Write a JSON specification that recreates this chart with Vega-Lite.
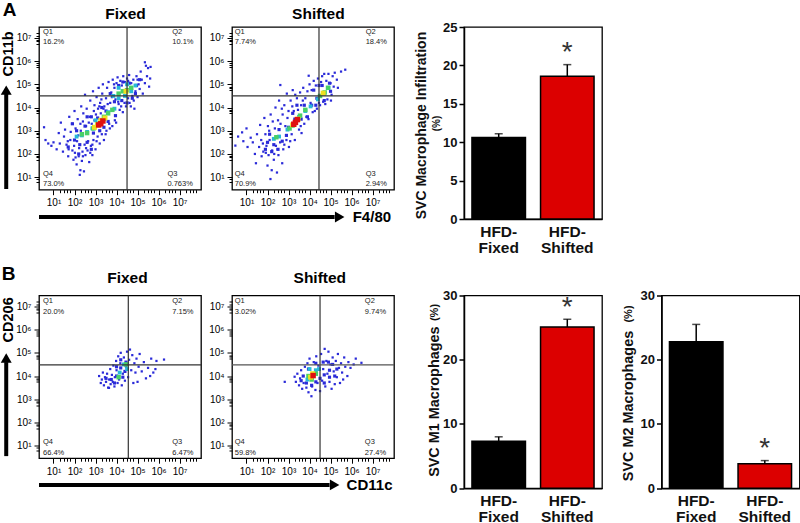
{"$schema":"https://vega.github.io/schema/vega-lite/v6.json","padding":{"left":0,"top":0,"right":0,"bottom":0},"background":"white","config":{"font":"Liberation Sans","view":{"stroke":"black","strokeWidth":1.3}},"datasets":{
"a1":[{"x":0.55,"y":3.15,"d":0},{"x":0.62,"y":2.6,"d":0},{"x":0.75,"y":2.45,"d":0},{"x":0.9,"y":2.35,"d":0},{"x":1.0,"y":2.5,"d":0},{"x":1.15,"y":2.2,"d":0},{"x":1.3,"y":2.45,"d":0},{"x":1.25,"y":2.9,"d":0},{"x":1.35,"y":3.35,"d":0},{"x":1.45,"y":2.1,"d":0},{"x":1.5,"y":2.75,"d":0},{"x":1.55,"y":3.05,"d":0},{"x":1.62,"y":2.4,"d":0},{"x":1.7,"y":1.9,"d":0},{"x":1.72,"y":2.2,"d":0},{"x":1.75,"y":3.6,"d":0},{"x":1.8,"y":2.6,"d":0},{"x":1.82,"y":2.95,"d":0},{"x":1.88,"y":3.3,"d":0},{"x":1.95,"y":1.75,"d":0},{"x":1.98,"y":2.35,"d":0},{"x":2.0,"y":3.85,"d":0},{"x":2.02,"y":2.05,"d":0},{"x":2.05,"y":3.1,"d":0},{"x":2.1,"y":1.55,"d":0},{"x":2.12,"y":2.55,"d":0},{"x":2.15,"y":3.5,"d":0},{"x":2.2,"y":1.9,"d":0},{"x":2.22,"y":2.25,"d":0},{"x":2.25,"y":1.1,"d":0},{"x":2.28,"y":1.3,"d":0},{"x":2.3,"y":3.0,"d":0},{"x":2.32,"y":4.05,"d":0},{"x":2.35,"y":1.7,"d":0},{"x":2.38,"y":2.1,"d":0},{"x":2.4,"y":3.4,"d":0},{"x":2.42,"y":3.75,"d":0},{"x":2.45,"y":1.25,"d":0},{"x":2.48,"y":2.4,"d":0},{"x":2.5,"y":4.55,"d":0},{"x":2.52,"y":1.95,"d":0},{"x":2.55,"y":3.2,"d":0},{"x":2.58,"y":3.95,"d":0},{"x":2.62,"y":2.15,"d":0},{"x":2.65,"y":2.55,"d":0},{"x":2.7,"y":1.65,"d":0},{"x":2.72,"y":3.6,"d":0},{"x":2.75,"y":4.3,"d":0},{"x":2.78,"y":2.35,"d":0},{"x":2.82,"y":3.3,"d":0},{"x":2.85,"y":1.95,"d":0},{"x":2.88,"y":4.7,"d":0},{"x":2.9,"y":2.6,"d":0},{"x":2.92,"y":3.85,"d":0},{"x":2.95,"y":4.1,"d":0},{"x":3.0,"y":2.2,"d":0},{"x":3.02,"y":3.7,"d":0},{"x":3.05,"y":4.45,"d":0},{"x":3.1,"y":2.75,"d":0},{"x":3.12,"y":3.95,"d":0},{"x":3.15,"y":4.85,"d":0},{"x":3.2,"y":2.45,"d":0},{"x":3.22,"y":4.2,"d":0},{"x":3.25,"y":3.75,"d":0},{"x":3.3,"y":2.85,"d":0},{"x":3.32,"y":4.6,"d":0},{"x":3.35,"y":5.0,"d":0},{"x":3.4,"y":2.6,"d":0},{"x":3.42,"y":4.05,"d":0},{"x":3.5,"y":4.4,"d":0},{"x":3.52,"y":3.0,"d":0},{"x":3.55,"y":4.85,"d":0},{"x":3.62,"y":5.1,"d":0},{"x":3.65,"y":3.3,"d":0},{"x":3.7,"y":4.2,"d":0},{"x":3.75,"y":4.65,"d":0},{"x":3.8,"y":3.2,"d":0},{"x":3.82,"y":5.2,"d":0},{"x":3.9,"y":4.85,"d":0},{"x":3.92,"y":3.45,"d":0},{"x":3.95,"y":4.35,"d":0},{"x":4.0,"y":5.05,"d":0},{"x":4.05,"y":5.3,"d":0},{"x":4.1,"y":4.15,"d":0},{"x":4.15,"y":3.9,"d":0},{"x":4.18,"y":5.15,"d":0},{"x":4.25,"y":4.95,"d":0},{"x":4.3,"y":3.8,"d":0},{"x":4.32,"y":5.35,"d":0},{"x":4.4,"y":5.1,"d":0},{"x":4.45,"y":4.05,"d":0},{"x":4.5,"y":5.25,"d":0},{"x":4.55,"y":4.4,"d":0},{"x":4.6,"y":5.4,"d":0},{"x":4.62,"y":4.2,"d":0},{"x":4.7,"y":5.05,"d":0},{"x":4.75,"y":4.5,"d":0},{"x":4.8,"y":5.2,"d":0},{"x":4.85,"y":3.95,"d":0},{"x":4.9,"y":4.7,"d":0},{"x":4.95,"y":5.35,"d":0},{"x":5.0,"y":4.45,"d":0},{"x":5.05,"y":5.0,"d":0},{"x":5.1,"y":4.8,"d":0},{"x":5.15,"y":5.55,"d":0},{"x":5.2,"y":5.2,"d":0},{"x":5.25,"y":4.6,"d":0},{"x":5.35,"y":5.05,"d":0},{"x":5.4,"y":5.8,"d":0},{"x":5.45,"y":5.35,"d":0},{"x":5.5,"y":5.7,"d":0},{"x":5.55,"y":4.9,"d":0},{"x":5.6,"y":5.25,"d":0},{"x":5.62,"y":5.75,"d":0},{"x":5.35,"y":5.95,"d":0},{"x":1.68,"y":2.55,"d":0},{"x":1.9,"y":2.15,"d":0},{"x":2.05,"y":1.85,"d":0},{"x":2.18,"y":2.8,"d":0},{"x":2.28,"y":3.3,"d":0},{"x":2.4,"y":1.9,"d":0},{"x":2.55,"y":2.25,"d":0},{"x":2.68,"y":3.35,"d":0},{"x":2.75,"y":2.05,"d":0},{"x":2.85,"y":2.4,"d":0},{"x":2.95,"y":3.45,"d":0},{"x":3.05,"y":2.55,"d":0},{"x":3.18,"y":4.05,"d":0},{"x":3.28,"y":4.35,"d":0},{"x":3.38,"y":3.95,"d":0},{"x":3.48,"y":2.85,"d":0},{"x":3.58,"y":4.15,"d":0},{"x":3.68,"y":3.1,"d":0},{"x":3.78,"y":4.45,"d":0},{"x":3.88,"y":5.0,"d":0},{"x":3.98,"y":3.35,"d":0},{"x":4.08,"y":4.25,"d":0},{"x":4.22,"y":4.05,"d":0},{"x":4.38,"y":4.2,"d":0},{"x":4.55,"y":5.15,"d":0},{"x":4.68,"y":4.05,"d":0},{"x":4.82,"y":4.3,"d":0},{"x":5.0,"y":5.2,"d":0},{"x":1.7,"y":2.3,"d":1},{"x":2.2,"y":2.0,"d":1},{"x":1.9,"y":3.3,"d":1},{"x":2.8,"y":2.2,"d":1},{"x":3.2,"y":3.0,"d":1},{"x":3.3,"y":4.0,"d":1},{"x":4.5,"y":4.2,"d":1},{"x":4.3,"y":5.1,"d":1},{"x":5.1,"y":5.2,"d":1},{"x":4.9,"y":4.6,"d":1},{"x":3.6,"y":3.4,"d":1},{"x":2.6,"y":3.6,"d":1},{"x":2.0,"y":2.6,"d":1},{"x":2.25,"y":2.4,"d":1},{"x":2.6,"y":2.5,"d":1},{"x":2.1,"y":3.0,"d":1},{"x":2.5,"y":3.2,"d":1},{"x":2.9,"y":2.9,"d":1},{"x":3.1,"y":3.55,"d":1},{"x":3.4,"y":3.15,"d":1},{"x":3.5,"y":3.85,"d":1},{"x":3.95,"y":3.65,"d":1},{"x":3.9,"y":4.25,"d":1},{"x":4.25,"y":4.3,"d":1},{"x":4.75,"y":4.4,"d":1},{"x":4.1,"y":4.95,"d":1},{"x":4.6,"y":5.05,"d":1},{"x":4.95,"y":4.95,"d":1},{"x":3.7,"y":4.6,"d":1},{"x":2.8,"y":3.6,"d":1},{"x":2.1,"y":2.75,"d":2},{"x":2.35,"y":2.8,"d":2},{"x":2.6,"y":2.95,"d":2},{"x":2.85,"y":3.1,"d":2},{"x":3.0,"y":3.45,"d":2},{"x":3.4,"y":3.5,"d":2},{"x":3.6,"y":3.8,"d":2},{"x":3.9,"y":3.95,"d":2},{"x":3.85,"y":4.5,"d":2},{"x":4.1,"y":4.4,"d":2},{"x":4.4,"y":4.5,"d":2},{"x":4.7,"y":4.7,"d":2},{"x":4.1,"y":4.85,"d":2},{"x":4.5,"y":5.0,"d":2},{"x":4.9,"y":4.95,"d":2},{"x":2.35,"y":2.85,"d":3},{"x":2.6,"y":2.9,"d":3},{"x":2.9,"y":3.1,"d":3},{"x":3.1,"y":3.3,"d":3},{"x":3.4,"y":3.6,"d":3},{"x":3.6,"y":3.75,"d":3},{"x":3.8,"y":3.9,"d":3},{"x":4.1,"y":4.6,"d":3},{"x":4.3,"y":4.7,"d":3},{"x":4.5,"y":4.75,"d":3},{"x":4.7,"y":4.85,"d":3},{"x":2.95,"y":3.15,"d":4},{"x":3.1,"y":3.25,"d":4},{"x":3.25,"y":3.45,"d":4},{"x":3.45,"y":3.55,"d":4},{"x":4.45,"y":4.7,"d":4},{"x":3.15,"y":3.25,"d":5},{"x":3.25,"y":3.3,"d":5},{"x":3.35,"y":3.42,"d":5}],
"a2":[{"x":0.47,"y":2.36,"d":0},{"x":0.6,"y":2.75,"d":0},{"x":0.79,"y":2.93,"d":0},{"x":0.85,"y":2.55,"d":0},{"x":1.0,"y":3.1,"d":0},{"x":1.05,"y":2.3,"d":0},{"x":1.2,"y":2.7,"d":0},{"x":1.3,"y":2.5,"d":0},{"x":1.4,"y":2.0,"d":0},{"x":1.45,"y":1.6,"d":0},{"x":1.5,"y":2.85,"d":0},{"x":1.6,"y":2.3,"d":0},{"x":1.65,"y":3.25,"d":0},{"x":1.7,"y":2.6,"d":0},{"x":1.72,"y":1.9,"d":0},{"x":1.8,"y":2.1,"d":0},{"x":1.85,"y":3.55,"d":0},{"x":1.9,"y":2.85,"d":0},{"x":1.95,"y":2.35,"d":0},{"x":2.0,"y":1.5,"d":0},{"x":2.02,"y":3.2,"d":0},{"x":2.05,"y":1.95,"d":0},{"x":2.1,"y":2.6,"d":0},{"x":2.14,"y":0.92,"d":0},{"x":2.15,"y":3.7,"d":0},{"x":2.2,"y":1.3,"d":0},{"x":2.22,"y":2.15,"d":0},{"x":2.3,"y":1.75,"d":0},{"x":2.35,"y":3.1,"d":0},{"x":2.38,"y":4.0,"d":0},{"x":2.4,"y":2.35,"d":0},{"x":2.45,"y":1.2,"d":0},{"x":2.5,"y":3.45,"d":0},{"x":2.52,"y":1.95,"d":0},{"x":2.55,"y":4.3,"d":0},{"x":2.6,"y":2.5,"d":0},{"x":2.61,"y":4.97,"d":0},{"x":2.7,"y":1.6,"d":0},{"x":2.72,"y":3.7,"d":0},{"x":2.75,"y":2.2,"d":0},{"x":2.8,"y":4.1,"d":0},{"x":2.85,"y":3.2,"d":0},{"x":2.9,"y":2.6,"d":0},{"x":2.92,"y":4.6,"d":0},{"x":3.0,"y":3.85,"d":0},{"x":3.02,"y":2.3,"d":0},{"x":3.1,"y":4.3,"d":0},{"x":3.15,"y":2.85,"d":0},{"x":3.2,"y":4.75,"d":0},{"x":3.25,"y":3.85,"d":0},{"x":3.3,"y":2.6,"d":0},{"x":3.4,"y":4.4,"d":0},{"x":3.5,"y":3.05,"d":0},{"x":3.55,"y":4.65,"d":0},{"x":3.6,"y":4.1,"d":0},{"x":3.62,"y":2.9,"d":0},{"x":3.7,"y":4.85,"d":0},{"x":3.75,"y":3.3,"d":0},{"x":3.8,"y":4.4,"d":0},{"x":3.9,"y":4.7,"d":0},{"x":3.96,"y":5.37,"d":0},{"x":3.95,"y":3.5,"d":0},{"x":4.0,"y":5.0,"d":0},{"x":4.05,"y":4.2,"d":0},{"x":4.1,"y":4.75,"d":0},{"x":4.15,"y":3.8,"d":0},{"x":4.2,"y":5.15,"d":0},{"x":4.3,"y":4.95,"d":0},{"x":4.35,"y":3.95,"d":0},{"x":4.4,"y":5.25,"d":0},{"x":4.5,"y":4.1,"d":0},{"x":4.55,"y":5.1,"d":0},{"x":4.6,"y":5.35,"d":0},{"x":4.65,"y":4.25,"d":0},{"x":4.7,"y":5.45,"d":0},{"x":4.8,"y":5.15,"d":0},{"x":4.85,"y":4.35,"d":0},{"x":4.9,"y":5.45,"d":0},{"x":5.0,"y":5.05,"d":0},{"x":5.05,"y":4.55,"d":0},{"x":5.1,"y":5.35,"d":0},{"x":5.15,"y":4.9,"d":0},{"x":5.2,"y":5.5,"d":0},{"x":5.3,"y":5.2,"d":0},{"x":5.35,"y":4.85,"d":0},{"x":5.5,"y":5.55,"d":0},{"x":5.7,"y":5.63,"d":0},{"x":1.78,"y":2.45,"d":0},{"x":1.92,"y":2.05,"d":0},{"x":2.08,"y":3.0,"d":0},{"x":2.25,"y":3.4,"d":0},{"x":2.32,"y":2.0,"d":0},{"x":2.48,"y":2.2,"d":0},{"x":2.62,"y":3.3,"d":0},{"x":2.68,"y":3.95,"d":0},{"x":2.8,"y":2.4,"d":0},{"x":2.95,"y":3.55,"d":0},{"x":3.08,"y":2.55,"d":0},{"x":3.18,"y":4.05,"d":0},{"x":3.32,"y":4.55,"d":0},{"x":3.45,"y":3.9,"d":0},{"x":3.58,"y":3.2,"d":0},{"x":3.68,"y":4.3,"d":0},{"x":3.85,"y":3.6,"d":0},{"x":4.25,"y":3.85,"d":0},{"x":4.45,"y":4.2,"d":0},{"x":4.75,"y":4.15,"d":0},{"x":5.02,"y":4.3,"d":0},{"x":1.9,"y":2.2,"d":1},{"x":2.2,"y":2.1,"d":1},{"x":2.5,"y":2.2,"d":1},{"x":2.9,"y":2.8,"d":1},{"x":3.3,"y":3.5,"d":1},{"x":3.9,"y":3.6,"d":1},{"x":4.3,"y":4.1,"d":1},{"x":4.6,"y":4.95,"d":1},{"x":5.0,"y":4.7,"d":1},{"x":4.2,"y":4.75,"d":1},{"x":3.4,"y":4.1,"d":1},{"x":2.0,"y":2.5,"d":1},{"x":2.3,"y":2.4,"d":1},{"x":2.1,"y":2.85,"d":1},{"x":2.55,"y":3.05,"d":1},{"x":2.7,"y":2.55,"d":1},{"x":3.0,"y":3.15,"d":1},{"x":3.2,"y":3.75,"d":1},{"x":3.6,"y":3.5,"d":1},{"x":3.75,"y":4.1,"d":1},{"x":4.1,"y":4.1,"d":1},{"x":4.35,"y":4.4,"d":1},{"x":4.7,"y":4.3,"d":1},{"x":4.45,"y":4.95,"d":1},{"x":4.95,"y":5.05,"d":1},{"x":2.3,"y":2.65,"d":2},{"x":2.55,"y":2.75,"d":2},{"x":2.95,"y":3.05,"d":2},{"x":3.2,"y":3.2,"d":2},{"x":3.5,"y":3.6,"d":2},{"x":3.8,"y":3.85,"d":2},{"x":4.05,"y":4.05,"d":2},{"x":4.4,"y":4.35,"d":2},{"x":4.7,"y":4.6,"d":2},{"x":4.9,"y":4.85,"d":2},{"x":2.42,"y":2.72,"d":3},{"x":3.05,"y":3.1,"d":3},{"x":3.55,"y":3.65,"d":3},{"x":3.8,"y":3.9,"d":3},{"x":4.5,"y":4.5,"d":3},{"x":4.72,"y":4.65,"d":3},{"x":4.88,"y":4.85,"d":3},{"x":3.2,"y":3.25,"d":4},{"x":3.45,"y":3.5,"d":4},{"x":4.65,"y":4.62,"d":4},{"x":3.25,"y":3.28,"d":5},{"x":3.33,"y":3.36,"d":5},{"x":3.42,"y":3.48,"d":5}],
"b1":[{"x":3.17,"y":4.0,"d":0},{"x":3.25,"y":3.7,"d":0},{"x":3.3,"y":3.85,"d":0},{"x":3.35,"y":4.15,"d":0},{"x":3.4,"y":3.6,"d":0},{"x":3.45,"y":3.95,"d":0},{"x":3.5,"y":3.75,"d":0},{"x":3.55,"y":4.1,"d":0},{"x":3.6,"y":3.5,"d":0},{"x":3.64,"y":3.49,"d":0},{"x":3.65,"y":3.85,"d":0},{"x":3.7,"y":4.3,"d":0},{"x":3.72,"y":3.65,"d":0},{"x":3.78,"y":4.05,"d":0},{"x":3.82,"y":3.75,"d":0},{"x":3.85,"y":4.45,"d":0},{"x":3.9,"y":3.55,"d":0},{"x":3.92,"y":3.95,"d":0},{"x":3.98,"y":4.65,"d":0},{"x":4.0,"y":4.25,"d":0},{"x":4.05,"y":3.7,"d":0},{"x":4.08,"y":4.85,"d":0},{"x":4.12,"y":3.85,"d":0},{"x":4.18,"y":4.55,"d":0},{"x":4.2,"y":5.0,"d":0},{"x":4.25,"y":3.6,"d":0},{"x":4.3,"y":4.1,"d":0},{"x":4.35,"y":4.8,"d":0},{"x":4.4,"y":3.8,"d":0},{"x":4.45,"y":4.4,"d":0},{"x":4.5,"y":5.05,"d":0},{"x":4.55,"y":3.95,"d":0},{"x":4.6,"y":4.7,"d":0},{"x":4.64,"y":5.14,"d":0},{"x":4.7,"y":4.25,"d":0},{"x":4.75,"y":4.9,"d":0},{"x":4.8,"y":3.7,"d":0},{"x":4.85,"y":4.55,"d":0},{"x":4.9,"y":4.15,"d":0},{"x":4.95,"y":4.75,"d":0},{"x":5.0,"y":3.75,"d":0},{"x":5.05,"y":4.4,"d":0},{"x":5.1,"y":4.95,"d":0},{"x":5.2,"y":4.2,"d":0},{"x":5.3,"y":4.6,"d":0},{"x":5.4,"y":3.9,"d":0},{"x":5.5,"y":4.35,"d":0},{"x":5.6,"y":4.0,"d":0},{"x":5.65,"y":4.75,"d":0},{"x":5.75,"y":4.15,"d":0},{"x":5.85,"y":4.3,"d":0},{"x":5.9,"y":4.65,"d":0},{"x":6.26,"y":4.71,"d":0},{"x":3.5,"y":3.9,"d":1},{"x":3.9,"y":3.7,"d":1},{"x":4.0,"y":4.4,"d":1},{"x":4.4,"y":4.2,"d":1},{"x":4.2,"y":4.7,"d":1},{"x":4.0,"y":4.0,"d":1},{"x":3.75,"y":3.85,"d":1},{"x":4.2,"y":4.35,"d":1},{"x":4.45,"y":4.6,"d":1},{"x":4.3,"y":3.95,"d":1},{"x":4.15,"y":4.15,"d":2},{"x":4.35,"y":4.5,"d":2},{"x":4.5,"y":4.3,"d":2},{"x":4.1,"y":3.95,"d":3},{"x":4.45,"y":4.5,"d":3}],
"b2":[{"x":2.82,"y":3.75,"d":0},{"x":3.29,"y":3.97,"d":0},{"x":3.35,"y":3.75,"d":0},{"x":3.42,"y":4.1,"d":0},{"x":3.5,"y":3.6,"d":0},{"x":3.55,"y":3.9,"d":0},{"x":3.6,"y":4.25,"d":0},{"x":3.65,"y":3.45,"d":0},{"x":3.72,"y":3.7,"d":0},{"x":3.78,"y":4.4,"d":0},{"x":3.85,"y":3.5,"d":0},{"x":3.9,"y":4.55,"d":0},{"x":3.95,"y":3.3,"d":0},{"x":4.0,"y":4.75,"d":0},{"x":4.09,"y":3.13,"d":0},{"x":4.12,"y":3.55,"d":0},{"x":4.2,"y":4.6,"d":0},{"x":4.28,"y":3.4,"d":0},{"x":4.32,"y":4.85,"d":0},{"x":4.38,"y":3.7,"d":0},{"x":4.42,"y":4.45,"d":0},{"x":4.5,"y":3.35,"d":0},{"x":4.55,"y":4.95,"d":0},{"x":4.6,"y":3.8,"d":0},{"x":4.65,"y":4.3,"d":0},{"x":4.72,"y":5.17,"d":0},{"x":4.75,"y":3.55,"d":0},{"x":4.8,"y":4.65,"d":0},{"x":4.85,"y":4.1,"d":0},{"x":4.9,"y":5.05,"d":0},{"x":4.95,"y":3.75,"d":0},{"x":5.0,"y":4.5,"d":0},{"x":5.05,"y":3.45,"d":0},{"x":5.1,"y":4.8,"d":0},{"x":5.15,"y":4.2,"d":0},{"x":5.2,"y":3.65,"d":0},{"x":5.25,"y":4.65,"d":0},{"x":5.3,"y":3.95,"d":0},{"x":5.35,"y":4.95,"d":0},{"x":5.4,"y":4.35,"d":0},{"x":5.45,"y":3.7,"d":0},{"x":5.5,"y":4.55,"d":0},{"x":5.55,"y":4.15,"d":0},{"x":5.6,"y":3.85,"d":0},{"x":5.65,"y":4.8,"d":0},{"x":5.7,"y":4.4,"d":0},{"x":5.8,"y":4.0,"d":0},{"x":5.85,"y":4.6,"d":0},{"x":5.95,"y":4.35,"d":0},{"x":6.1,"y":4.5,"d":0},{"x":6.2,"y":4.75,"d":0},{"x":6.47,"y":4.57,"d":0},{"x":3.6,"y":3.8,"d":1},{"x":4.1,"y":3.6,"d":1},{"x":4.5,"y":3.9,"d":1},{"x":4.3,"y":4.55,"d":1},{"x":4.9,"y":4.6,"d":1},{"x":5.3,"y":4.3,"d":1},{"x":4.7,"y":3.7,"d":1},{"x":3.95,"y":4.3,"d":1},{"x":3.7,"y":4.0,"d":1},{"x":3.85,"y":3.7,"d":1},{"x":4.3,"y":3.75,"d":1},{"x":4.7,"y":4.05,"d":1},{"x":4.95,"y":4.25,"d":1},{"x":4.65,"y":4.6,"d":1},{"x":5.2,"y":4.0,"d":1},{"x":5.1,"y":4.5,"d":1},{"x":4.95,"y":3.95,"d":1},{"x":3.9,"y":3.85,"d":2},{"x":4.3,"y":4.25,"d":2},{"x":4.45,"y":4.3,"d":2},{"x":4.0,"y":4.3,"d":2},{"x":3.95,"y":4.0,"d":3},{"x":4.1,"y":3.85,"d":3},{"x":4.3,"y":4.1,"d":3},{"x":4.05,"y":3.95,"d":4},{"x":4.15,"y":4.1,"d":4},{"x":4.17,"y":4.02,"d":5}],
"qa1":[{"x":0.5,"y":7.27,"t":"Q1"},{"x":0.5,"y":6.81,"t":"16.2%"},{"x":6.65,"y":7.27,"t":"Q2"},{"x":6.65,"y":6.81,"t":"10.1%"},{"x":6.42,"y":1.14,"t":"Q3"},{"x":6.42,"y":0.71,"t":"0.763%"},{"x":0.5,"y":1.14,"t":"Q4"},{"x":0.5,"y":0.71,"t":"73.0%"}],
"qa2":[{"x":0.44,"y":7.27,"t":"Q1"},{"x":0.44,"y":6.81,"t":"7.74%"},{"x":6.67,"y":7.27,"t":"Q2"},{"x":6.67,"y":6.81,"t":"18.4%"},{"x":6.67,"y":1.14,"t":"Q3"},{"x":6.67,"y":0.71,"t":"2.94%"},{"x":0.44,"y":1.14,"t":"Q4"},{"x":0.44,"y":0.71,"t":"70.9%"}],
"qb1":[{"x":0.5,"y":7.23,"t":"Q1"},{"x":0.5,"y":6.78,"t":"20.0%"},{"x":6.65,"y":7.23,"t":"Q2"},{"x":6.65,"y":6.78,"t":"7.15%"},{"x":6.65,"y":1.14,"t":"Q3"},{"x":6.65,"y":0.68,"t":"6.47%"},{"x":0.5,"y":1.14,"t":"Q4"},{"x":0.5,"y":0.68,"t":"66.4%"}],
"qb2":[{"x":0.44,"y":7.23,"t":"Q1"},{"x":0.44,"y":6.78,"t":"3.02%"},{"x":6.63,"y":7.23,"t":"Q2"},{"x":6.63,"y":6.78,"t":"9.74%"},{"x":6.63,"y":1.14,"t":"Q3"},{"x":6.63,"y":0.68,"t":"27.4%"},{"x":0.44,"y":1.14,"t":"Q4"},{"x":0.44,"y":0.68,"t":"59.8%"}],
"ba":[{"g":"HFD-Fixed","v":10.6,"e":11.1},{"g":"HFD-Shifted","v":18.6,"e":20.1}],
"bm1":[{"g":"HFD-Fixed","v":7.3,"e":8.0},{"g":"HFD-Shifted","v":25.1,"e":26.3}],
"bm2":[{"g":"HFD-Fixed","v":22.8,"e":25.5},{"g":"HFD-Shifted","v":3.8,"e":4.3}]
},
"spacing":268.5,"bounds":"flush","vconcat":[
{"spacing":425,"bounds":"flush","hconcat":[
{"spacing":31,"bounds":"flush","hconcat":[
{"width":162,"height":162.7,"resolve":{"axis":{"x":"independent","y":"independent"}},"layer":[
{"data":{"name":"a1"},"mark":{"type":"point","shape":"square","filled":true,"opacity":1},"encoding":{"x":{"field":"x","type":"quantitative","scale":{"domain":[0.31,8.02]},"axis":{"orient":"bottom","values":[1,2,3,4,5,6,7],"labelExpr":"'10'+['¹','²','³','⁴','⁵','⁶','⁷'][datum.value-1]","title":null,"grid":false,"domain":false,"tickSize":5,"tickColor":"black","labelFontSize":10,"labelColor":"black","labelPadding":3,"labelFlush":false}},"y":{"field":"y","type":"quantitative","scale":{"domain":[0.46,7.47]},"axis":{"orient":"left","values":[1,2,3,4,5,6,7],"labelExpr":"'10'+['¹','²','³','⁴','⁵','⁶','⁷'][datum.value-1]","title":null,"grid":false,"domain":false,"tickSize":5,"tickColor":"black","labelFontSize":10,"labelColor":"black","labelPadding":3,"labelFlush":false}},"color":{"field":"d","type":"nominal","legend":null,"scale":{"domain":[0,1,2,3,4,5],"range":["#2a2ad8","#2a2ad8","#28b8d8","#48d068","#f0e020","#e01010"]}},"size":{"field":"d","type":"ordinal","legend":null,"scale":{"domain":[0,1,2,3,4,5],"range":[5,30,40,30,20,16]}},"order":{"field":"d","type":"ordinal"}}},
{"data":{"values":[{"x":4.5,"y":4.5}]},"mark":{"type":"rule","color":"#333","strokeWidth":1.2},"encoding":{"x":{"field":"x","type":"quantitative","axis":null,"scale":{"domain":[0.31,8.02]}}}},
{"data":{"values":[{"x":4.5,"y":4.5}]},"mark":{"type":"rule","color":"#333","strokeWidth":1.2},"encoding":{"y":{"field":"y","type":"quantitative","axis":null,"scale":{"domain":[0.46,7.47]}}}},
{"data":{"name":"qa1"},"mark":{"type":"text","align":"left","baseline":"middle","fontSize":7.5,"color":"#222"},"encoding":{"text":{"field":"t"},"x":{"field":"x","type":"quantitative","scale":{"domain":[0.31,8.02]},"axis":{"orient":"bottom","values":[1.3,1.5,1.65,1.8,2.3,2.5,2.65,2.8,3.3,3.5,3.65,3.8,4.3,4.5,4.65,4.8,5.3,5.5,5.65,5.8,6.3,6.5,6.65,6.8,7.3,7.5,7.65,7.8],"labels":false,"title":null,"grid":false,"domain":false,"tickSize":3,"tickColor":"black"}},"y":{"field":"y","type":"quantitative","scale":{"domain":[0.46,7.47]},"axis":{"orient":"left","values":[0.8,0.9,1.75,1.85,1.9,2.75,2.85,2.9,3.75,3.85,3.9,4.75,4.85,4.9,5.75,5.85,5.9,6.75,6.85,6.9,7.2,7.1],"labels":false,"title":null,"grid":false,"domain":false,"tickSize":3,"tickColor":"black"}}}},
{"data":{"values":[{"x":4.43,"y":8.03,"t":"Fixed"}]},"mark":{"type":"text","fontWeight":"bold","fontSize":15.5,"color":"black"},"encoding":{"text":{"field":"t"},"x":{"field":"x","type":"quantitative","axis":null,"scale":{"domain":[0.31,8.02]}},"y":{"field":"y","type":"quantitative","axis":null,"scale":{"domain":[0.46,7.47]}}}},
{"data":{"values":[{"x":-1.09,"y":8.2,"t":"A"}]},"mark":{"type":"text","fontWeight":"bold","fontSize":19,"color":"black"},"encoding":{"text":{"field":"t"},"x":{"field":"x","type":"quantitative","axis":null,"scale":{"domain":[0.31,8.02]}},"y":{"field":"y","type":"quantitative","axis":null,"scale":{"domain":[0.46,7.47]}}}},
{"data":{"values":[{"x":15.24,"y":-0.72,"t":"F4/80"}]},"mark":{"type":"text","fontWeight":"bold","fontSize":15,"align":"left","color":"black"},"encoding":{"text":{"field":"t"},"x":{"field":"x","type":"quantitative","axis":null,"scale":{"domain":[0.31,8.02]}},"y":{"field":"y","type":"quantitative","axis":null,"scale":{"domain":[0.46,7.47]}}}},
{"data":{"values":[{"x":-1.1,"y":6.31,"t":"CD11b"}]},"mark":{"type":"text","fontWeight":"bold","fontSize":14.5,"angle":270,"color":"black"},"encoding":{"text":{"field":"t"},"x":{"field":"x","type":"quantitative","axis":null,"scale":{"domain":[0.31,8.02]}},"y":{"field":"y","type":"quantitative","axis":null,"scale":{"domain":[0.46,7.47]}}}},
{"data":{"values":[{"x":0.31,"x2":14.38,"y":-0.72}]},"mark":{"type":"rule","strokeWidth":4,"color":"black"},"encoding":{"x":{"field":"x","type":"quantitative","axis":null,"scale":{"domain":[0.31,8.02]}},"x2":{"field":"x2"},"y":{"field":"y","type":"quantitative","axis":null,"scale":{"domain":[0.46,7.47]}}}},
{"data":{"values":[{"x":-1.25,"y":0.49,"y2":4.6}]},"mark":{"type":"rule","strokeWidth":4,"color":"black"},"encoding":{"x":{"field":"x","type":"quantitative","axis":null,"scale":{"domain":[0.31,8.02]}},"y":{"field":"y","type":"quantitative","axis":null,"scale":{"domain":[0.46,7.47]}},"y2":{"field":"y2"}}},
{"data":{"values":[{"x":14.62,"y":-0.72}]},"mark":{"type":"point","shape":"triangle-right","filled":true,"opacity":1,"size":120,"color":"black"},"encoding":{"x":{"field":"x","type":"quantitative","axis":null,"scale":{"domain":[0.31,8.02]}},"y":{"field":"y","type":"quantitative","axis":null,"scale":{"domain":[0.46,7.47]}}}},
{"data":{"values":[{"x":-1.25,"y":4.75}]},"mark":{"type":"point","shape":"triangle-up","filled":true,"opacity":1,"size":120,"color":"black"},"encoding":{"x":{"field":"x","type":"quantitative","axis":null,"scale":{"domain":[0.31,8.02]}},"y":{"field":"y","type":"quantitative","axis":null,"scale":{"domain":[0.46,7.47]}}}}
]},
{"width":162,"height":162.7,"resolve":{"axis":{"x":"independent","y":"independent"}},"layer":[
{"data":{"name":"a2"},"mark":{"type":"point","shape":"square","filled":true,"opacity":1},"encoding":{"x":{"field":"x","type":"quantitative","scale":{"domain":[0.31,8.02]},"axis":{"orient":"bottom","values":[1,2,3,4,5,6,7],"labelExpr":"'10'+['¹','²','³','⁴','⁵','⁶','⁷'][datum.value-1]","title":null,"grid":false,"domain":false,"tickSize":5,"tickColor":"black","labelFontSize":10,"labelColor":"black","labelPadding":3,"labelFlush":false}},"y":{"field":"y","type":"quantitative","scale":{"domain":[0.46,7.47]},"axis":{"orient":"left","values":[1,2,3,4,5,6,7],"labelExpr":"'10'+['¹','²','³','⁴','⁵','⁶','⁷'][datum.value-1]","title":null,"grid":false,"domain":false,"tickSize":5,"tickColor":"black","labelFontSize":10,"labelColor":"black","labelPadding":3,"labelFlush":false}},"color":{"field":"d","type":"nominal","legend":null,"scale":{"domain":[0,1,2,3,4,5],"range":["#2a2ad8","#2a2ad8","#28b8d8","#48d068","#f0e020","#e01010"]}},"size":{"field":"d","type":"ordinal","legend":null,"scale":{"domain":[0,1,2,3,4,5],"range":[5,30,40,30,20,16]}},"order":{"field":"d","type":"ordinal"}}},
{"data":{"values":[{"x":4.45,"y":4.5}]},"mark":{"type":"rule","color":"#333","strokeWidth":1.2},"encoding":{"x":{"field":"x","type":"quantitative","axis":null,"scale":{"domain":[0.31,8.02]}}}},
{"data":{"values":[{"x":4.45,"y":4.5}]},"mark":{"type":"rule","color":"#333","strokeWidth":1.2},"encoding":{"y":{"field":"y","type":"quantitative","axis":null,"scale":{"domain":[0.46,7.47]}}}},
{"data":{"name":"qa2"},"mark":{"type":"text","align":"left","baseline":"middle","fontSize":7.5,"color":"#222"},"encoding":{"text":{"field":"t"},"x":{"field":"x","type":"quantitative","scale":{"domain":[0.31,8.02]},"axis":{"orient":"bottom","values":[1.3,1.5,1.65,1.8,2.3,2.5,2.65,2.8,3.3,3.5,3.65,3.8,4.3,4.5,4.65,4.8,5.3,5.5,5.65,5.8,6.3,6.5,6.65,6.8,7.3,7.5,7.65,7.8],"labels":false,"title":null,"grid":false,"domain":false,"tickSize":3,"tickColor":"black"}},"y":{"field":"y","type":"quantitative","scale":{"domain":[0.46,7.47]},"axis":{"orient":"left","values":[0.8,0.9,1.75,1.85,1.9,2.75,2.85,2.9,3.75,3.85,3.9,4.75,4.85,4.9,5.75,5.85,5.9,6.75,6.85,6.9,7.2,7.1],"labels":false,"title":null,"grid":false,"domain":false,"tickSize":3,"tickColor":"black"}}}},
{"data":{"values":[{"x":4.42,"y":8.03,"t":"Shifted"}]},"mark":{"type":"text","fontWeight":"bold","fontSize":15.5,"color":"black"},"encoding":{"text":{"field":"t"},"x":{"field":"x","type":"quantitative","axis":null,"scale":{"domain":[0.31,8.02]}},"y":{"field":"y","type":"quantitative","axis":null,"scale":{"domain":[0.46,7.47]}}}}
]}
]},
{"width":138,"height":192,"resolve":{"axis":{"y":"independent"}},"layer":[
{"data":{"name":"ba"},"mark":{"type":"bar","stroke":"black","strokeWidth":1.5},"encoding":{"x":{"field":"g","type":"nominal","scale":{"paddingInner":0.22,"paddingOuter":0.116},"axis":{"title":null,"labelAngle":0,"labelExpr":"datum.value=='HFD-Fixed'?['HFD-','Fixed']:['HFD-','Shifted']","labelFontSize":15.5,"labelFontWeight":"bold","labelColor":"#111","labelLineHeight":16,"tickSize":0,"labelPadding":5,"domainColor":"black","domainWidth":1.5}},"y":{"field":"v","type":"quantitative","scale":{"domain":[0,25],"nice":false},"axis":{"orient":"left","values":[0,5,10,15,20,25],"title":"SVC Macrophage Infiltration","titleFontSize":14,"titleFontWeight":"bold","titleColor":"#111","titleX":-43,"titleY":98,"titleAlign":"center","titleBaseline":"middle","labelFontSize":13,"labelFontWeight":"bold","labelColor":"#111","grid":false,"tickSize":5,"tickWidth":1.5,"tickColor":"black","domainColor":"black","domainWidth":1.5,"labelPadding":2}},"fill":{"field":"g","type":"nominal","legend":null,"scale":{"domain":["HFD-Fixed","HFD-Shifted"],"range":["#000000","#dc0000"]}}}},
{"data":{"name":"ba"},"mark":{"type":"rule","color":"black","strokeWidth":1.5},"encoding":{"x":{"field":"g","type":"nominal"},"y":{"field":"v","type":"quantitative","axis":{"orient":"left","title":"(%)","titleFontSize":10,"titleFontWeight":"bold","titleColor":"#111","titleX":-27.5,"titleY":96,"titleAlign":"center","titleBaseline":"middle","labels":false,"ticks":false,"domain":false,"grid":false}},"y2":{"field":"e"}}},
{"data":{"name":"ba"},"mark":{"type":"tick","color":"black","thickness":1.5,"size":8},"encoding":{"x":{"field":"g","type":"nominal"},"y":{"field":"e","type":"quantitative","axis":null}}},
{"data":{"values":[{"g":"HFD-Shifted","y":21.9,"t":"*"}]},"mark":{"type":"text","fontSize":28,"baseline":"middle","dy":2,"color":"#333"},"encoding":{"x":{"field":"g","type":"nominal"},"y":{"field":"y","type":"quantitative","axis":null},"text":{"field":"t"}}}
]}
]},
{"spacing":425,"bounds":"flush","hconcat":[
{"spacing":31,"bounds":"flush","hconcat":[
{"width":162,"height":162.7,"resolve":{"axis":{"x":"independent","y":"independent"}},"layer":[
{"data":{"name":"b1"},"mark":{"type":"point","shape":"square","filled":true,"opacity":1},"encoding":{"x":{"field":"x","type":"quantitative","scale":{"domain":[0.31,8.02]},"axis":{"orient":"bottom","values":[1,2,3,4,5,6,7],"labelExpr":"'10'+['¹','²','³','⁴','⁵','⁶','⁷'][datum.value-1]","title":null,"grid":false,"domain":false,"tickSize":5,"tickColor":"black","labelFontSize":10,"labelColor":"black","labelPadding":3,"labelFlush":false}},"y":{"field":"y","type":"quantitative","scale":{"domain":[0.46,7.47]},"axis":{"orient":"left","values":[1,2,3,4,5,6,7],"labelExpr":"'10'+['¹','²','³','⁴','⁵','⁶','⁷'][datum.value-1]","title":null,"grid":false,"domain":false,"tickSize":5,"tickColor":"black","labelFontSize":10,"labelColor":"black","labelPadding":3,"labelFlush":false}},"color":{"field":"d","type":"nominal","legend":null,"scale":{"domain":[0,1,2,3,4,5],"range":["#2a2ad8","#2a2ad8","#28b8d8","#48d068","#f0e020","#e01010"]}},"size":{"field":"d","type":"ordinal","legend":null,"scale":{"domain":[0,1,2,3,4,5],"range":[4,20,14,12,8,6]}},"order":{"field":"d","type":"ordinal"}}},
{"data":{"values":[{"x":4.56,"y":4.48}]},"mark":{"type":"rule","color":"#333","strokeWidth":1.2},"encoding":{"x":{"field":"x","type":"quantitative","axis":null,"scale":{"domain":[0.31,8.02]}}}},
{"data":{"values":[{"x":4.56,"y":4.48}]},"mark":{"type":"rule","color":"#333","strokeWidth":1.2},"encoding":{"y":{"field":"y","type":"quantitative","axis":null,"scale":{"domain":[0.46,7.47]}}}},
{"data":{"name":"qb1"},"mark":{"type":"text","align":"left","baseline":"middle","fontSize":7.5,"color":"#222"},"encoding":{"text":{"field":"t"},"x":{"field":"x","type":"quantitative","scale":{"domain":[0.31,8.02]},"axis":{"orient":"bottom","values":[1.3,1.5,1.65,1.8,2.3,2.5,2.65,2.8,3.3,3.5,3.65,3.8,4.3,4.5,4.65,4.8,5.3,5.5,5.65,5.8,6.3,6.5,6.65,6.8,7.3,7.5,7.65,7.8],"labels":false,"title":null,"grid":false,"domain":false,"tickSize":3,"tickColor":"black"}},"y":{"field":"y","type":"quantitative","scale":{"domain":[0.46,7.47]},"axis":{"orient":"left","values":[0.8,0.9,1.75,1.85,1.9,2.75,2.85,2.9,3.75,3.85,3.9,4.75,4.85,4.9,5.75,5.85,5.9,6.75,6.85,6.9,7.2,7.1],"labels":false,"title":null,"grid":false,"domain":false,"tickSize":3,"tickColor":"black"}}}},
{"data":{"values":[{"x":4.52,"y":8.23,"t":"Fixed"}]},"mark":{"type":"text","fontWeight":"bold","fontSize":15.5,"color":"black"},"encoding":{"text":{"field":"t"},"x":{"field":"x","type":"quantitative","axis":null,"scale":{"domain":[0.31,8.02]}},"y":{"field":"y","type":"quantitative","axis":null,"scale":{"domain":[0.46,7.47]}}}},
{"data":{"values":[{"x":-1.14,"y":8.4,"t":"B"}]},"mark":{"type":"text","fontWeight":"bold","fontSize":19,"color":"black"},"encoding":{"text":{"field":"t"},"x":{"field":"x","type":"quantitative","axis":null,"scale":{"domain":[0.31,8.02]}},"y":{"field":"y","type":"quantitative","axis":null,"scale":{"domain":[0.46,7.47]}}}},
{"data":{"values":[{"x":14.95,"y":-0.69,"t":"CD11c"}]},"mark":{"type":"text","fontWeight":"bold","fontSize":15,"align":"left","color":"black"},"encoding":{"text":{"field":"t"},"x":{"field":"x","type":"quantitative","axis":null,"scale":{"domain":[0.31,8.02]}},"y":{"field":"y","type":"quantitative","axis":null,"scale":{"domain":[0.46,7.47]}}}},
{"data":{"values":[{"x":-1.1,"y":6.42,"t":"CD206"}]},"mark":{"type":"text","fontWeight":"bold","fontSize":14.5,"angle":270,"color":"black"},"encoding":{"text":{"field":"t"},"x":{"field":"x","type":"quantitative","axis":null,"scale":{"domain":[0.31,8.02]}},"y":{"field":"y","type":"quantitative","axis":null,"scale":{"domain":[0.46,7.47]}}}},
{"data":{"values":[{"x":0.31,"x2":14.14,"y":-0.69}]},"mark":{"type":"rule","strokeWidth":4,"color":"black"},"encoding":{"x":{"field":"x","type":"quantitative","axis":null,"scale":{"domain":[0.31,8.02]}},"x2":{"field":"x2"},"y":{"field":"y","type":"quantitative","axis":null,"scale":{"domain":[0.46,7.47]}}}},
{"data":{"values":[{"x":-1.25,"y":0.55,"y2":4.6}]},"mark":{"type":"rule","strokeWidth":4,"color":"black"},"encoding":{"x":{"field":"x","type":"quantitative","axis":null,"scale":{"domain":[0.31,8.02]}},"y":{"field":"y","type":"quantitative","axis":null,"scale":{"domain":[0.46,7.47]}},"y2":{"field":"y2"}}},
{"data":{"values":[{"x":14.38,"y":-0.69}]},"mark":{"type":"point","shape":"triangle-right","filled":true,"opacity":1,"size":120,"color":"black"},"encoding":{"x":{"field":"x","type":"quantitative","axis":null,"scale":{"domain":[0.31,8.02]}},"y":{"field":"y","type":"quantitative","axis":null,"scale":{"domain":[0.46,7.47]}}}},
{"data":{"values":[{"x":-1.25,"y":4.78}]},"mark":{"type":"point","shape":"triangle-up","filled":true,"opacity":1,"size":120,"color":"black"},"encoding":{"x":{"field":"x","type":"quantitative","axis":null,"scale":{"domain":[0.31,8.02]}},"y":{"field":"y","type":"quantitative","axis":null,"scale":{"domain":[0.46,7.47]}}}}
]},
{"width":162,"height":162.7,"resolve":{"axis":{"x":"independent","y":"independent"}},"layer":[
{"data":{"name":"b2"},"mark":{"type":"point","shape":"square","filled":true,"opacity":1},"encoding":{"x":{"field":"x","type":"quantitative","scale":{"domain":[0.31,8.02]},"axis":{"orient":"bottom","values":[1,2,3,4,5,6,7],"labelExpr":"'10'+['¹','²','³','⁴','⁵','⁶','⁷'][datum.value-1]","title":null,"grid":false,"domain":false,"tickSize":5,"tickColor":"black","labelFontSize":10,"labelColor":"black","labelPadding":3,"labelFlush":false}},"y":{"field":"y","type":"quantitative","scale":{"domain":[0.46,7.47]},"axis":{"orient":"left","values":[1,2,3,4,5,6,7],"labelExpr":"'10'+['¹','²','³','⁴','⁵','⁶','⁷'][datum.value-1]","title":null,"grid":false,"domain":false,"tickSize":5,"tickColor":"black","labelFontSize":10,"labelColor":"black","labelPadding":3,"labelFlush":false}},"color":{"field":"d","type":"nominal","legend":null,"scale":{"domain":[0,1,2,3,4,5],"range":["#2a2ad8","#2a2ad8","#28b8d8","#48d068","#f0e020","#e01010"]}},"size":{"field":"d","type":"ordinal","legend":null,"scale":{"domain":[0,1,2,3,4,5],"range":[4,20,20,16,12,8]}},"order":{"field":"d","type":"ordinal"}}},
{"data":{"values":[{"x":4.5,"y":4.48}]},"mark":{"type":"rule","color":"#333","strokeWidth":1.2},"encoding":{"x":{"field":"x","type":"quantitative","axis":null,"scale":{"domain":[0.31,8.02]}}}},
{"data":{"values":[{"x":4.5,"y":4.48}]},"mark":{"type":"rule","color":"#555","strokeWidth":1.2},"encoding":{"y":{"field":"y","type":"quantitative","axis":null,"scale":{"domain":[0.46,7.47]}}}},
{"data":{"name":"qb2"},"mark":{"type":"text","align":"left","baseline":"middle","fontSize":7.5,"color":"#222"},"encoding":{"text":{"field":"t"},"x":{"field":"x","type":"quantitative","scale":{"domain":[0.31,8.02]},"axis":{"orient":"bottom","values":[1.3,1.5,1.65,1.8,2.3,2.5,2.65,2.8,3.3,3.5,3.65,3.8,4.3,4.5,4.65,4.8,5.3,5.5,5.65,5.8,6.3,6.5,6.65,6.8,7.3,7.5,7.65,7.8],"labels":false,"title":null,"grid":false,"domain":false,"tickSize":3,"tickColor":"black"}},"y":{"field":"y","type":"quantitative","scale":{"domain":[0.46,7.47]},"axis":{"orient":"left","values":[0.8,0.9,1.75,1.85,1.9,2.75,2.85,2.9,3.75,3.85,3.9,4.75,4.85,4.9,5.75,5.85,5.9,6.75,6.85,6.9,7.2,7.1],"labels":false,"title":null,"grid":false,"domain":false,"tickSize":3,"tickColor":"black"}}}},
{"data":{"values":[{"x":4.49,"y":8.23,"t":"Shifted"}]},"mark":{"type":"text","fontWeight":"bold","fontSize":15.5,"color":"black"},"encoding":{"text":{"field":"t"},"x":{"field":"x","type":"quantitative","axis":null,"scale":{"domain":[0.31,8.02]}},"y":{"field":"y","type":"quantitative","axis":null,"scale":{"domain":[0.46,7.47]}}}}
]}
]},
{"spacing":59.5,"bounds":"flush","hconcat":[
{"width":138,"height":192.7,"resolve":{"axis":{"y":"independent"}},"layer":[
{"data":{"name":"bm1"},"mark":{"type":"bar","stroke":"black","strokeWidth":1.5},"encoding":{"x":{"field":"g","type":"nominal","scale":{"paddingInner":0.22,"paddingOuter":0.116},"axis":{"title":null,"labelAngle":0,"labelExpr":"datum.value=='HFD-Fixed'?['HFD-','Fixed']:['HFD-','Shifted']","labelFontSize":15.5,"labelFontWeight":"bold","labelColor":"#111","labelLineHeight":16,"tickSize":0,"labelPadding":5,"domainColor":"black","domainWidth":1.5}},"y":{"field":"v","type":"quantitative","scale":{"domain":[0,30],"nice":false},"axis":{"orient":"left","values":[0,10,20,30],"title":"SVC M1 Macrophages","titleFontSize":14.4,"titleFontWeight":"bold","titleColor":"#111","titleX":-30,"titleY":105.7,"titleAlign":"center","titleBaseline":"middle","labelFontSize":13,"labelFontWeight":"bold","labelColor":"#111","grid":false,"tickSize":5,"tickWidth":1.5,"tickColor":"black","domainColor":"black","domainWidth":1.5,"labelPadding":2}},"fill":{"field":"g","type":"nominal","legend":null,"scale":{"domain":["HFD-Fixed","HFD-Shifted"],"range":["#000000","#dc0000"]}}}},
{"data":{"name":"bm1"},"mark":{"type":"rule","color":"black","strokeWidth":1.5},"encoding":{"x":{"field":"g","type":"nominal"},"y":{"field":"v","type":"quantitative","axis":{"orient":"left","title":"(%)","titleFontSize":11,"titleFontWeight":"bold","titleColor":"#111","titleX":-30,"titleY":16.5,"titleAlign":"center","titleBaseline":"middle","labels":false,"ticks":false,"domain":false,"grid":false}},"y2":{"field":"e"}}},
{"data":{"name":"bm1"},"mark":{"type":"tick","color":"black","thickness":1.5,"size":8},"encoding":{"x":{"field":"g","type":"nominal"},"y":{"field":"e","type":"quantitative","axis":null}}},
{"data":{"values":[{"g":"HFD-Shifted","y":28.4,"t":"*"}]},"mark":{"type":"text","fontSize":28,"baseline":"middle","dy":2,"color":"#333"},"encoding":{"x":{"field":"g","type":"nominal"},"y":{"field":"y","type":"quantitative","axis":null},"text":{"field":"t"}}}
]},
{"width":138,"height":192.7,"resolve":{"axis":{"y":"independent"}},"layer":[
{"data":{"name":"bm2"},"mark":{"type":"bar","stroke":"black","strokeWidth":1.5},"encoding":{"x":{"field":"g","type":"nominal","scale":{"paddingInner":0.22,"paddingOuter":0.116},"axis":{"title":null,"labelAngle":0,"labelExpr":"datum.value=='HFD-Fixed'?['HFD-','Fixed']:['HFD-','Shifted']","labelFontSize":15.5,"labelFontWeight":"bold","labelColor":"#111","labelLineHeight":16,"tickSize":0,"labelPadding":5,"domainColor":"black","domainWidth":1.5}},"y":{"field":"v","type":"quantitative","scale":{"domain":[0,30],"nice":false},"axis":{"orient":"left","values":[0,10,20,30],"title":"SVC M2 Macrophages","titleFontSize":14.4,"titleFontWeight":"bold","titleColor":"#111","titleX":-33,"titleY":110,"titleAlign":"center","titleBaseline":"middle","labelFontSize":13,"labelFontWeight":"bold","labelColor":"#111","grid":false,"tickSize":5,"tickWidth":1.5,"tickColor":"black","domainColor":"black","domainWidth":1.5,"labelPadding":2}},"fill":{"field":"g","type":"nominal","legend":null,"scale":{"domain":["HFD-Fixed","HFD-Shifted"],"range":["#000000","#dc0000"]}}}},
{"data":{"name":"bm2"},"mark":{"type":"rule","color":"black","strokeWidth":1.5},"encoding":{"x":{"field":"g","type":"nominal"},"y":{"field":"v","type":"quantitative","axis":{"orient":"left","title":"(%)","titleFontSize":11,"titleFontWeight":"bold","titleColor":"#111","titleX":-33,"titleY":18,"titleAlign":"center","titleBaseline":"middle","labels":false,"ticks":false,"domain":false,"grid":false}},"y2":{"field":"e"}}},
{"data":{"name":"bm2"},"mark":{"type":"tick","color":"black","thickness":1.5,"size":8},"encoding":{"x":{"field":"g","type":"nominal"},"y":{"field":"e","type":"quantitative","axis":null}}},
{"data":{"values":[{"g":"HFD-Shifted","y":6.45,"t":"*"}]},"mark":{"type":"text","fontSize":28,"baseline":"middle","dy":2,"color":"#333"},"encoding":{"x":{"field":"g","type":"nominal"},"y":{"field":"y","type":"quantitative","axis":null},"text":{"field":"t"}}}
]}
]}
]}
]}
